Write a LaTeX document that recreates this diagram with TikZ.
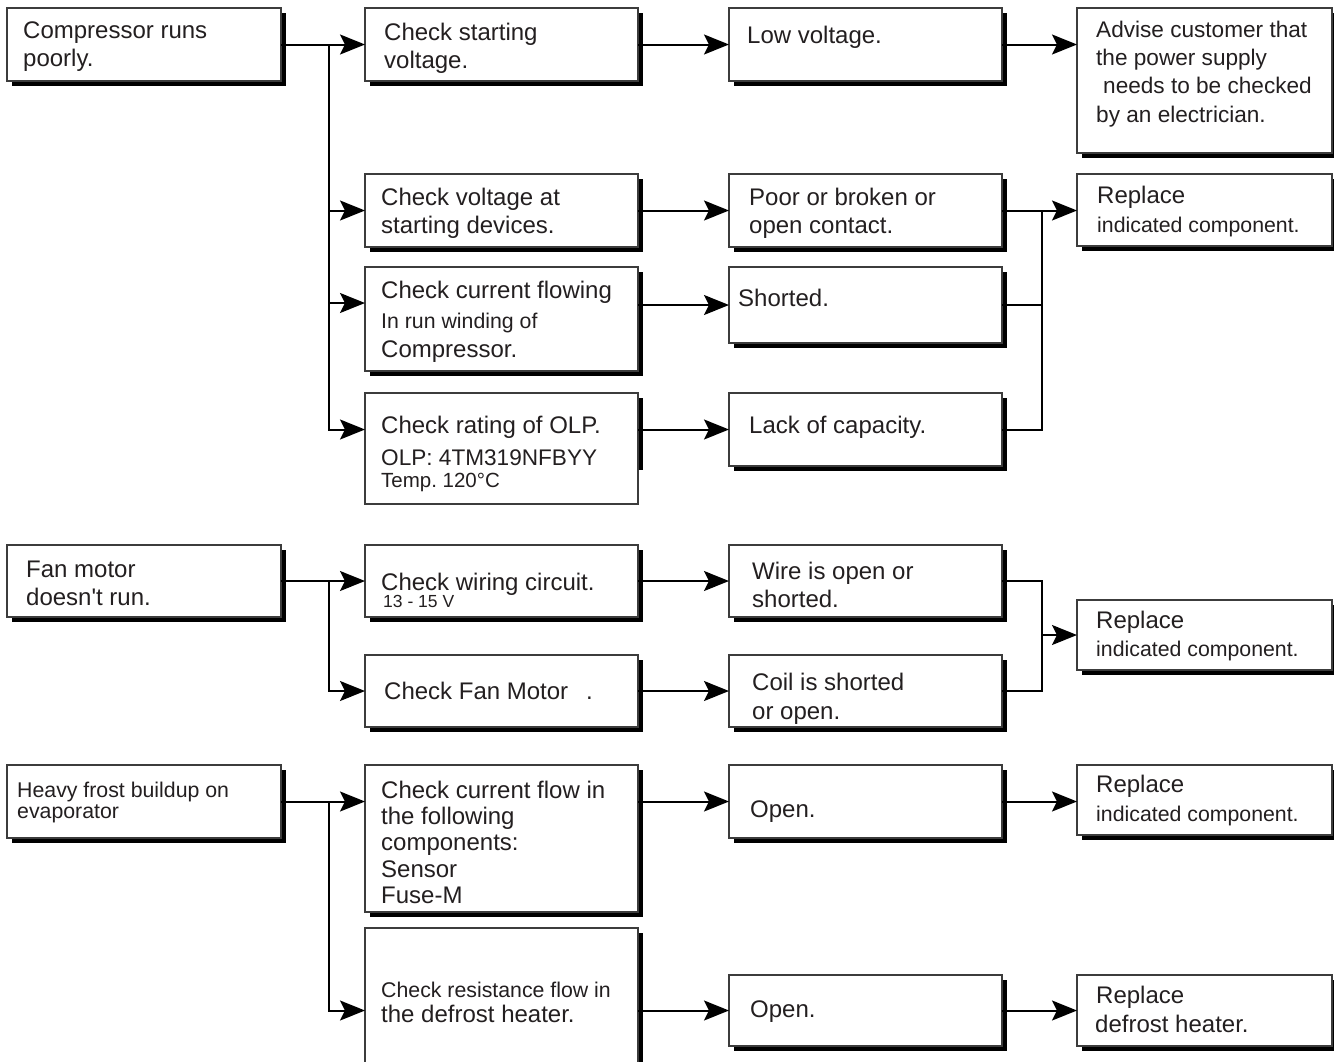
\documentclass[tikz,border=0pt]{standalone}
\usepackage{fontspec}
\setmainfont{Liberation Sans}
\usetikzlibrary{arrows.meta,shadows}
\definecolor{tc}{RGB}{35,31,32}
\definecolor{bc}{RGB}{60,60,60}
\frenchspacing
\begin{document}
\begin{tikzpicture}[x=1pt,y=-1pt,
  box/.style={draw=bc, line width=1.3pt, fill=white, inner sep=0pt, outer sep=0pt, anchor=north west},
  sbox/.style={box, drop shadow={shadow xshift=5pt, shadow yshift=-5pt, fill=black, opacity=1}},
  conn/.style={line width=2pt, black},
  arr/.style={conn, -{Stealth[length=25pt,width=20pt,inset=5pt]}},
  txt/.style={anchor=base west, inner sep=0pt, text=tc, font=\fontsize{24}{29}\selectfont},
  stxt/.style={txt, font=\fontsize{21.3}{26}\selectfont},
  mtxt/.style={txt, font=\fontsize{22.6}{28}\selectfont},
]
\clip (0,0) rectangle (1334,1061);
\useasboundingbox (0,0) rectangle (1334,1061);
\fill[white] (0,0) rectangle (1334,1061);

% ---- boxes ----
\node[sbox, minimum width=274pt, minimum height=73pt] (A1) at (7,8) {};
\node[sbox, minimum width=273pt, minimum height=73pt] (B1) at (365,8) {};
\node[sbox, minimum width=273pt, minimum height=73pt] (C1) at (729,8) {};
\node[sbox, minimum width=255pt, minimum height=145pt] (D1) at (1077,8) {};
\node[sbox, minimum width=273pt, minimum height=73pt] (B2) at (365,174) {};
\node[sbox, minimum width=273pt, minimum height=73pt] (C2) at (729,174) {};
\node[sbox, minimum width=255pt, minimum height=72pt] (D2) at (1077,174) {};
\node[sbox, minimum width=273pt, minimum height=104pt] (B3) at (365,267) {};
\node[sbox, minimum width=273pt, minimum height=76pt] (C3) at (729,267) {};
\fill[black] (638,398) rectangle (643,470);
\node[box, minimum width=273pt, minimum height=111pt] (B4) at (365,393) {};
\node[sbox, minimum width=273pt, minimum height=73pt] (C4) at (729,393) {};

\node[sbox, minimum width=274pt, minimum height=72pt] (A2) at (7,545) {};
\node[sbox, minimum width=273pt, minimum height=72pt] (B5) at (365,545) {};
\node[sbox, minimum width=273pt, minimum height=72pt] (C5) at (729,545) {};
\node[sbox, minimum width=255pt, minimum height=70pt] (D3) at (1077,600) {};
\node[sbox, minimum width=273pt, minimum height=72pt] (B6) at (365,655) {};
\node[sbox, minimum width=273pt, minimum height=72pt] (C6) at (729,655) {};

\node[sbox, minimum width=274pt, minimum height=73pt] (A3) at (7,765) {};
\node[sbox, minimum width=273pt, minimum height=147pt] (B7) at (365,765) {};
\node[sbox, minimum width=273pt, minimum height=73pt] (C7) at (729,765) {};
\node[sbox, minimum width=255pt, minimum height=70pt] (D4) at (1077,765) {};
\node[sbox, minimum width=273pt, minimum height=145pt] (B8) at (365,928) {};
\node[sbox, minimum width=273pt, minimum height=71pt] (C8) at (729,975) {};
\node[sbox, minimum width=255pt, minimum height=71pt] (D5) at (1077,975) {};

\coordinate (jx) at (329,0);
\coordinate (mx) at (1042,0);

% ---- connectors: compressor ----
\draw[arr] (A1.east) -- (B1.west);
\draw[arr] (A1.east -| jx) |- (B2.west);
\draw[arr] (A1.east -| jx) |- ([yshift=16pt]B3.west);
\draw[arr] (A1.east -| jx) |- (B4.west |- C4.west);
\draw[arr] (B1.east) -- (C1.west);
\draw[arr] (C1.east) -- (C1.east -| D1.west);
\draw[arr] (B2.east) -- (C2.west);
\draw[arr] (C2.east) -- (C2.east -| D2.west);
\draw[conn] (C2.east -| mx) |- (C4.east);
\draw[conn] (C3.east) -- (C3.east -| mx);
\draw[arr] (B3.east |- C3.west) -- (C3.west);
\draw[arr] (B4.east |- C4.west) -- (C4.west);

% ---- connectors: fan ----
\draw[arr] (A2.east) -- (B5.west);
\draw[arr] (A2.east -| jx) |- (B6.west);
\draw[arr] (B5.east) -- (C5.west);
\draw[arr] (B6.east) -- (C6.west);
\draw[conn] (C5.east) -| (C6.east -| mx) -- (C6.east);
\draw[arr] (D3.west -| mx) -- (D3.west);

% ---- connectors: frost ----
\draw[arr] (A3.east) -- (A3.east -| B7.west);
\draw[arr] (A3.east -| jx) |- (B8.west |- C8.west);
\draw[arr] (B7.east |- C7.west) -- (C7.west);
\draw[arr] (C7.east) -- (C7.east -| D4.west);
\draw[arr] (B8.east |- C8.west) -- (C8.west);
\draw[arr] (C8.east) -- (C8.east -| D5.west);

% ---- texts ----
\node[txt] (tA1a) at (23,38) {Compressor runs};
\node[txt] (tA1b) at (23,66) {poorly.};
\node[txt] (tB1a) at (384,40) {Check starting};
\node[txt] (tB1b) at (384,68) {voltage.};
\node[txt] (tC1) at (747,43) {Low voltage.};
\node[mtxt] (tD1a) at (1096,37) {Advise customer that};
\node[mtxt] (tD1b) at (1096,65) {the power supply};
\node[mtxt] (tD1c) at (1103,93) {needs to be checked};
\node[mtxt] (tD1d) at (1096,122) {by an electrician.};

\node[txt] (tB2a) at (381,205) {Check voltage at};
\node[txt] (tB2b) at (381,233) {starting devices.};
\node[txt] (tC2a) at (749,205) {Poor or broken or};
\node[txt] (tC2b) at (749,233) {open contact.};
\node[txt] (tD2a) at (1097,203) {Replace};
\node[stxt] (tD2b) at (1097,232) {indicated component.};

\node[txt] (tB3a) at (381,298) {Check current flowing};
\node[stxt] (tB3b) at (381,328) {In run winding of};
\node[txt] (tB3c) at (381,357) {Compressor.};
\node[txt] (tC3) at (738,306) {Shorted.};

\node[txt] (tB4a) at (381,433) {Check rating of OLP.};
\node[mtxt] (tB4b) at (381,465) {OLP: 4TM319NFBYY};
\node[txt, font=\fontsize{20.5}{24}\selectfont] (tB4c) at (381,487) {Temp. 120°C};
\node[txt] (tC4) at (749,433) {Lack of capacity.};

\node[txt] (tA2a) at (26,577) {Fan motor};
\node[txt] (tA2b) at (26,605) {doesn\textquotesingle t run.};
\node[txt] (tB5a) at (381,590) {Check wiring circuit.};
\node[txt, font=\fontsize{17.5}{21}\selectfont] (tB5b) at (383,607) {13 - 15 V};
\node[txt] (tC5a) at (752,579) {Wire is open or};
\node[txt] (tC5b) at (752,607) {shorted.};
\node[txt] (tD3a) at (1096,628) {Replace};
\node[stxt] (tD3b) at (1096,656) {indicated component.};
\node[txt] (tB6a) at (384,699) {Check Fan Motor};
\node[txt] (tB6b) at (586,699) {.};
\node[txt] (tC6a) at (752,690) {Coil is shorted};
\node[txt] (tC6b) at (752,719) {or open.};

\node[stxt] (tA3a) at (17,797) {Heavy frost buildup on};
\node[stxt] (tA3b) at (17,818) {evaporator};
\node[txt] (tB7a) at (381,798) {Check current flow in};
\node[txt] (tB7b) at (381,824) {the following};
\node[txt] (tB7c) at (381,850) {components:};
\node[txt] (tB7d) at (381,877) {Sensor};
\node[txt] (tB7e) at (381,903) {Fuse-M};
\node[txt] (tC7) at (750,817) {Open.};
\node[txt] (tD4a) at (1096,792) {Replace};
\node[stxt] (tD4b) at (1096,821) {indicated component.};

\node[stxt] (tB8a) at (381,997) {Check resistance flow in};
\node[txt] (tB8b) at (381,1022) {the defrost heater.};
\node[txt] (tC8) at (750,1017) {Open.};
\node[txt] (tD5a) at (1096,1003) {Replace};
\node[txt] (tD5b) at (1095,1032) {defrost heater.};
\end{tikzpicture}
\end{document}
